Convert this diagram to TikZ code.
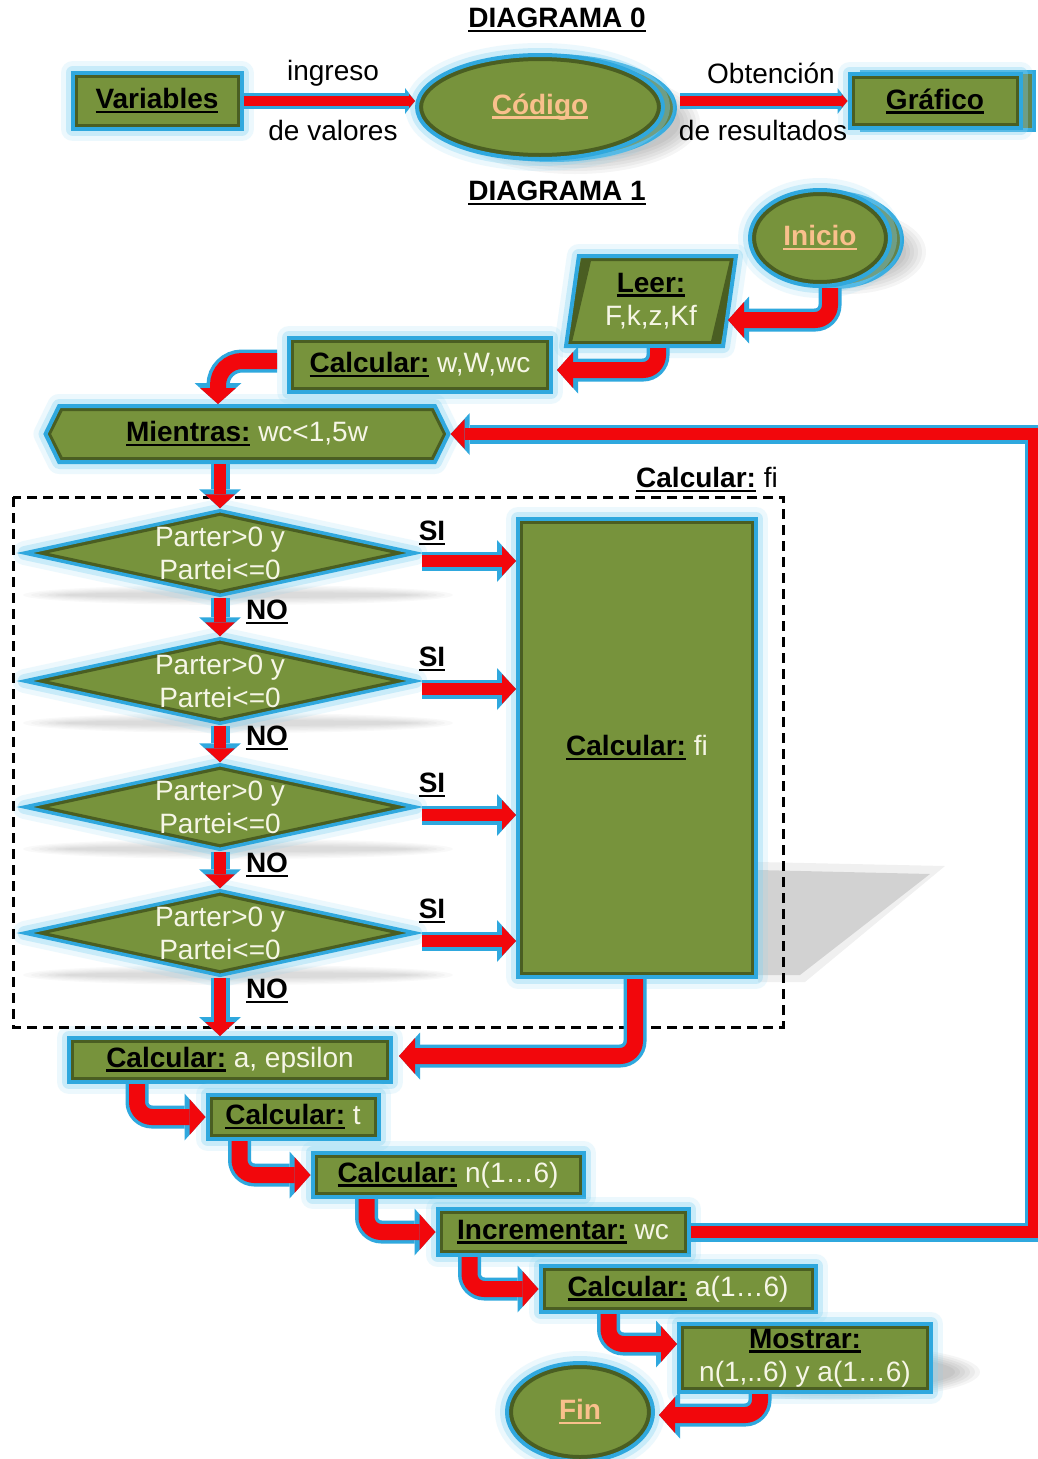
\documentclass[tikz,border=0pt]{standalone}
\usepackage{fontspec}
\setmainfont{Liberation Sans}
\usetikzlibrary{shapes.geometric,shapes.symbols,arrows.meta,calc}

\definecolor{olive}{HTML}{77933C}
\definecolor{oliveD}{HTML}{4A5E22}
\definecolor{cyanb}{HTML}{2FA8DE}
\definecolor{glowc}{HTML}{86D3F2}
\definecolor{redc}{HTML}{F2070C}
\definecolor{cream}{HTML}{F6F6E6}
\definecolor{peach}{HTML}{F9C08C}

% underline drawn as a rule below the text box
\newcommand\subr[1]{\setbox0\hbox{#1}\rlap{\rule[-4.5pt]{\wd0}{2.4pt}}\box0}
\newcommand\key[1]{\textbf{\subr{#1}}}
\newcommand\val[1]{\textcolor{cream}{#1}}
\newcommand\term[1]{\textcolor{peach}{\textbf{\subr{#1}}}}

\tikzset{
  glow/.style={preaction={draw=glowc, line width=24pt, line join=round, opacity=.15},
               preaction={draw=glowc, line width=14pt, line join=round, opacity=.35}},
  box/.style={rectangle, fill=olive, draw=cyanb, line width=4pt, glow, inner sep=0pt, align=center,
    path picture={\draw[oliveD, line width=10pt] (path picture bounding box.south west) rectangle (path picture bounding box.north east);}},
  oval/.style={ellipse, fill=olive, draw=cyanb, line width=4pt, glow, inner sep=0pt,
    path picture={\draw[oliveD, line width=12pt] let \p1=($(path picture bounding box.north east)-(path picture bounding box.center)$) in (path picture bounding box.center) ellipse [x radius=\x1, y radius=\y1];}},
  dec/.style={diamond, fill=olive, draw=cyanb, line width=3.5pt, glow, inner sep=0pt,
    minimum width=392pt, minimum height=86pt,
    path picture={\draw[oliveD, line width=10pt] (path picture bounding box.west) -- (path picture bounding box.north) -- (path picture bounding box.east) -- (path picture bounding box.south) -- cycle;},
    label={[text=cream, align=center]center:Parter>0 y\\Partei<=0}},
  para/.style={trapezium, trapezium left angle=77, trapezium right angle=103, trapezium stretches body,
    fill=olive, draw=cyanb, line width=4pt, glow, inner sep=0pt, align=center,
    minimum width=170pt, minimum height=90pt,
    path picture={\draw[oliveD, line width=10pt] (path picture bounding box.south west) -- ($(path picture bounding box.north west)+(21,0)$) -- (path picture bounding box.north east) -- ($(path picture bounding box.south east)+(-21,0)$) -- cycle;}},
  hexa/.style={signal, signal to=west and east, signal pointer angle=128,
    fill=olive, draw=cyanb, line width=4pt, glow, inner sep=0pt,
    minimum width=403pt, minimum height=56pt,
    path picture={\draw[oliveD, line width=10pt] (path picture bounding box.west) -- ($(path picture bounding box.north west)+(14,0)$) -- ($(path picture bounding box.north east)+(-14,0)$) -- (path picture bounding box.east) -- ($(path picture bounding box.south east)+(-14,0)$) -- ($(path picture bounding box.south west)+(14,0)$) -- cycle;}},
  backshape/.style={fill=olive!80!black, draw=cyanb, line width=4pt},
  thinarr/.style={draw=redc, line width=10pt, -{Triangle[length=6pt,width=14pt,line width=0pt]},
    preaction={draw=cyanb, line width=16pt, -{Triangle[length=10pt,width=26pt,line width=0pt]}}},
  midarr/.style={draw=redc, line width=12pt, -{Triangle[length=14pt,width=30pt,line width=0pt]},
    preaction={draw=cyanb, line width=19pt, -{Triangle[length=19pt,width=42pt,line width=0pt]}}},
  bigarr/.style={draw=redc, line width=16pt, rounded corners=15pt, -{Triangle[length=16pt,width=36pt,line width=0pt]},
    preaction={draw=cyanb, line width=23pt, -{Triangle[length=21pt,width=47pt,line width=0pt]}}},
  softshadow/.style={fill=black, opacity=.04},
}

\begin{document}
\begin{tikzpicture}[x=1pt, y=-1pt, font=\fontsize{28}{33}\selectfont]
\useasboundingbox[fill=white] (0,0) rectangle (1038,1459);

% ---------- soft shadows ----------
\foreach \k in {0,...,5}{
  \fill[softshadow] (575,122) ellipse [x radius=125-4*\k, y radius=52-3*\k];
  \fill[softshadow] (848,252) ellipse [x radius=78-4*\k, y radius=42-3*\k];
  \fill[softshadow] (830,1372) ellipse [x radius=150-5*\k, y radius=28-2*\k];
  \foreach \yy in {553,681,807,933}{
    \fill[black, opacity=.025] (238,\yy+42) ellipse [x radius=215-8*\k, y radius=10-1.4*\k];
  }
}
\fill[black, opacity=.06] (758,862) -- (945,866) -- (805,982) -- (758,982) -- cycle;
\fill[black, opacity=.12] (758,870) -- (930,874) -- (800,975) -- (758,975) -- cycle;

% ---------- DIAGRAMA 0 ----------
\node (t0) at (557,20) {\key{DIAGRAMA 0}};
\draw[backshape] (862,72) rectangle (1034,130);
\node[box, minimum width=169pt, minimum height=56pt] (var) at (157,101) {\key{Variables}};
\draw[backshape] (552,108) ellipse [x radius=123, y radius=52];
\node[oval, minimum width=246pt, minimum height=104pt] (cod) at (540,107) {\term{Código}};
\node[box, minimum width=171pt, minimum height=54pt] (graf) at (935,101) {\key{Gráfico}};

\draw[thinarr] (var.east) -- (var.east -| cod.west);
\draw[thinarr] ($(graf.west -| cod.east)+(15,0)$) -- (graf.west);
\node (l1) at (333,73) {ingreso};
\node (l2) at (333,130) {de valores};
\node (l3) at (771,73) {Obtención};
\node (l4) at (763,130) {de resultados};

% ---------- DIAGRAMA 1 ----------
\node (t1) at (557,193) {\key{DIAGRAMA 1}};
\draw[backshape] (834,240) ellipse [x radius=68, y radius=47];
\node[oval, minimum width=140pt, minimum height=96pt] (ini) at (820,238) {\term{Inicio}};
\node[para] (leer) at (651,301) {\key{Leer:}\\\val{F,k,z,Kf}};
\node[box, minimum width=262pt, minimum height=54pt] (cw) at (420,365) {\key{Calcular:} \val{w,W,wc}};
\node[hexa] (mien) at (247,434) {\key{Mientras:} \val{wc<1,5w}};

\node[dec] (d1) at (220,553) {};
\node[dec] (d2) at (220,681) {};
\node[dec] (d3) at (220,807) {};
\node[dec] (d4) at (220,933) {};
\node[box, minimum width=238pt, minimum height=458pt] (big) at (637,748) {\key{Calcular:} \val{fi}};

\node[box, minimum width=322pt, minimum height=44pt] (ca) at (230,1060) {\key{Calcular:} \val{a, epsilon}};
\node[box, minimum width=171pt, minimum height=44pt] (ct) at (293,1117) {\key{Calcular:} \val{t}};
\node[box, minimum width=271pt, minimum height=44pt] (cn) at (448,1175) {\key{Calcular:} \val{n(1…6)}};
\node[box, minimum width=251pt, minimum height=46pt] (inc) at (563,1232) {\key{Incrementar:} \val{wc}};
\node[box, minimum width=275pt, minimum height=46pt] (ca6) at (678,1289) {\key{Calcular:} \val{a(1…6)}};
\node[box, minimum width=252pt, minimum height=68pt] (most) at (805,1358) {\key{Mostrar:}\\\val{n(1,..6) y a(1…6)}};
\node[oval, minimum width=146pt, minimum height=98pt] (fin) at (580,1412) {\term{Fin}};

% group frame around the decisions
\draw[black, line width=3pt, dash pattern=on 10pt off 6pt] (13,497) rectangle (783,1027);
\node (gl) at (707,480) {\key{Calcular:} fi};

% ---------- connectors ----------
\draw[bigarr] ([xshift=10pt]ini.south) |- ($(leer.center)+(77,19)$);
\draw[bigarr] ($(leer.south)+(7,0)$) |- ($(cw.east)+(4,5)$);
\draw[bigarr, rounded corners=24pt] ($(cw.west)+(-10,-4)$) -| ($(mien.north)+(-29,0)$);

\coordinate (rr) at (1034,434);
\draw[midarr] (inc.east) -- (inc.east -| rr) |- (mien.east);

\draw[midarr] (d1.north |- mien.south) -- (d1.north);
\draw[midarr] (d1.south) -- (d2.north);
\draw[midarr] (d2.south) -- (d3.north);
\draw[midarr] (d3.south) -- (d4.north);
\draw[midarr] (d4.south) -- (d4.south |- ca.north);

\foreach \d in {d1,d2,d3,d4}{
  \coordinate (s\d) at ($(\d.east)+(4,8)$);
  \draw[midarr] (s\d) -- (s\d -| big.west);
}

\draw[bigarr] ($(big.south)+(-2,0)$) |- ($(ca.east)+(6,-4)$);

\draw[bigarr] ($(ca.south west)+(70,0)$) |- (ct.west);
\draw[bigarr] ($(ct.south west)+(34,0)$) |- (cn.west);
\draw[bigarr] ($(cn.south west)+(56,0)$) |- (inc.west);
\draw[bigarr] ($(inc.south west)+(34,0)$) |- (ca6.west);
\draw[bigarr] ($(ca6.south west)+(70,0)$) |- ($(most.west)+(0,-14)$);
\draw[bigarr] ($(most.south)+(-45,0)$) |- ($(fin.east)+(4,3)$);

% ---------- branch labels ----------
\foreach \yy in {612,738,865,991}{ \node at (267,\yy) {\key{NO}}; }
\foreach \yy in {533,659,785,911}{ \node at (432,\yy) {\key{SI}}; }
\end{tikzpicture}
\end{document}
